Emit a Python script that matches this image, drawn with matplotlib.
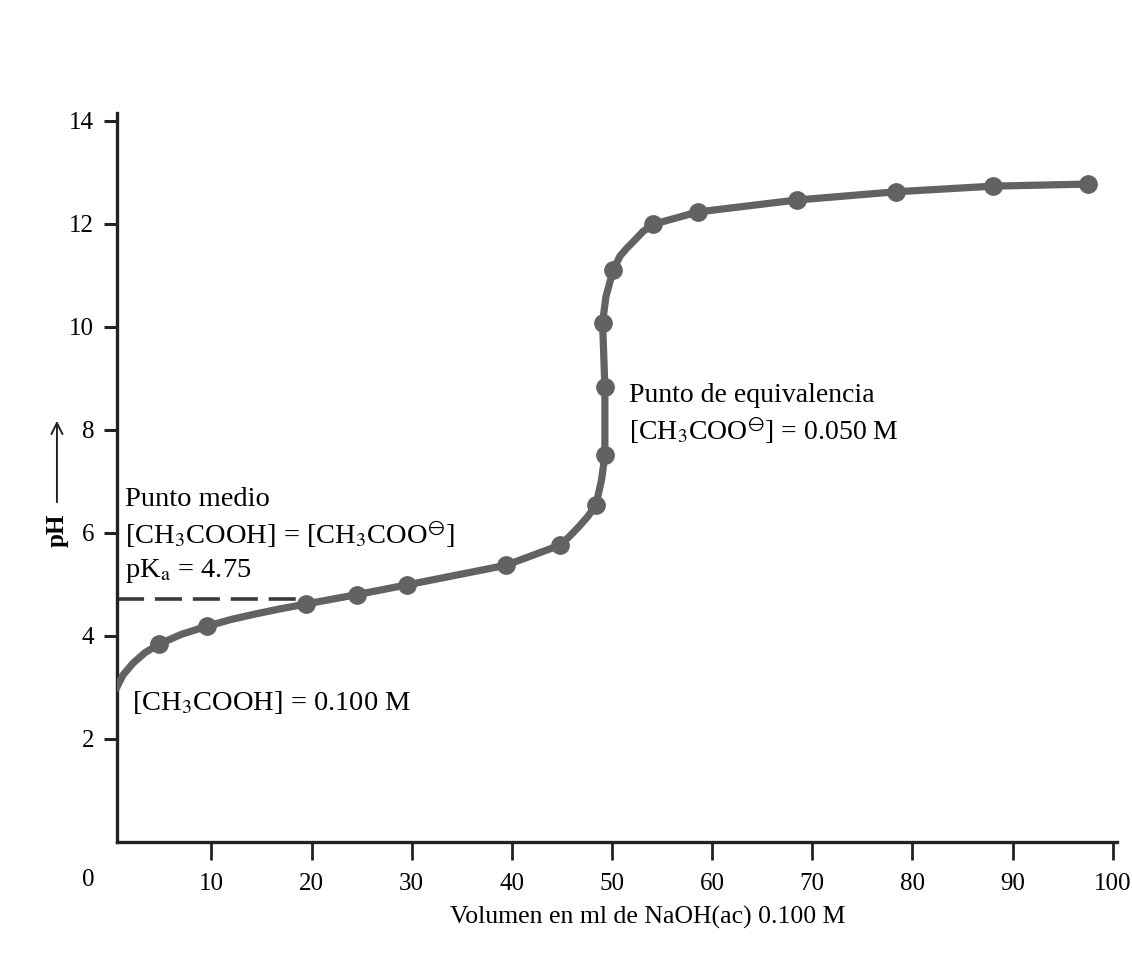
import numpy as np
import matplotlib.pyplot as plt

plt.rcParams['font.family'] = 'serif'
plt.rcParams['font.serif'] = ['Liberation Serif', 'DejaVu Serif']
plt.rcParams['mathtext.fontset'] = 'stix'

# Puntos medidos de la titulación (ml de NaOH, pH)
vol_puntos = [4.77, 9.60, 19.49, 24.49, 29.54, 39.40, 44.80, 48.39, 49.29,
              49.29, 49.06, 50.12, 54.12, 58.61, 68.44, 78.33, 88.08, 97.57]
ph_puntos = [3.84, 4.19, 4.62, 4.80, 4.99, 5.37, 5.76, 6.54, 7.51,
             8.83, 10.08, 11.10, 11.99, 12.23, 12.46, 12.62, 12.73, 12.77]

# Trazo de la curva
vol_curva = [0.5, 1.17, 2.17, 3.34, 4.77, 7.0, 9.60, 12.0, 14.5, 17.0, 19.49,
             24.49, 29.54, 39.40, 44.80, 45.7, 46.6, 47.6, 48.39, 48.96, 49.29,
             49.29, 49.06, 49.39, 50.12, 50.79, 51.5, 52.12, 53.1, 54.12,
             58.61, 68.44, 78.33, 88.08, 97.57]
ph_curva = [2.98, 3.24, 3.47, 3.67, 3.84, 4.03, 4.19, 4.32, 4.43, 4.53, 4.62,
            4.80, 4.99, 5.37, 5.76, 5.92, 6.10, 6.32, 6.54, 7.03, 7.51,
            8.83, 10.08, 10.58, 11.10, 11.37, 11.53, 11.65, 11.85, 11.99,
            12.23, 12.46, 12.62, 12.73, 12.77]

xticks = [10, 20, 30, 40, 50, 60, 70, 80, 90, 100]
yticks = [2, 4, 6, 8, 10, 12, 14]
pka = 4.72
vol_medio = 18.5

fig = plt.figure(figsize=(11.32, 9.65), dpi=100)
ax = fig.add_axes([0.1036, 0.1275, 0.8829, 0.7557])

gris = '#626262'
ax.plot(vol_curva, ph_curva, color=gris, linewidth=5.2, solid_capstyle='round',
        solid_joinstyle='round', zorder=3)
ax.plot(vol_puntos, ph_puntos, 'o', color=gris, markersize=12.5, zorder=4)

# Línea discontinua del punto medio
ax.plot([0.6, vol_medio], [pka, pka], color='#3a3a3a', linewidth=2.6,
        dashes=(7.5, 3), zorder=2)

ax.set_xlim(0.6, 100.4)
ax.set_ylim(0, 14.155)
ax.set_xticks(xticks)
ax.set_yticks(yticks)
ax.tick_params(axis='x', direction='out', length=13, width=2, pad=9,
               labelsize=18, color='#222222')
ax.tick_params(axis='y', direction='out', length=9.5, width=2.2, pad=7,
               labelsize=18, color='#222222')
for s in ['top', 'right']:
    ax.spines[s].set_visible(False)
for s in ['left', 'bottom']:
    ax.spines[s].set_linewidth(2.4)
    ax.spines[s].set_color('#222222')

# Etiqueta "0" del eje x
ax.text(-2.25, -0.052, '0', transform=ax.get_xaxis_transform(), ha='center',
        va='center', fontsize=18)

ax.set_xlabel('Volumen en ml de NaOH(ac) 0.100 M', fontsize=18.5)
ax.xaxis.set_label_coords(0.531, -0.087)

# Etiqueta del eje y con flecha
fig.text(0.0503, 0.4508, 'pH', rotation=90, ha='center', va='center',
         fontsize=18, fontweight='bold')
fig.add_artist(plt.Annotation('', xy=(0.0503, 0.5668), xytext=(0.0503, 0.4767),
                              xycoords='figure fraction', textcoords='figure fraction',
                              arrowprops=dict(arrowstyle='->', lw=1.4, color='#222222',
                                              mutation_scale=20)))

ax.text(125 / 1132, 1 - 577 / 965,
        'Punto medio\n[CH$_3$COOH] = [CH$_3$COO$^{\\ominus}$]\npK$_\\mathrm{a}$ = 4.75',
        transform=fig.transFigure, ha='left', va='baseline', fontsize=20.5,
        linespacing=1.33)
ax.text(131.7 / 1132, 1 - 710 / 965, '[CH$_3$COOH] = 0.100 M',
        transform=fig.transFigure, ha='left', va='baseline', fontsize=20.5)
ax.text(629.3 / 1132, 1 - 440 / 965,
        'Punto de equivalencia\n[CH$_3$COO$^{\\ominus}$] = 0.050 M',
        transform=fig.transFigure, ha='left', va='baseline', fontsize=20,
        linespacing=1.33)

fig.savefig('out.png', dpi=100)
